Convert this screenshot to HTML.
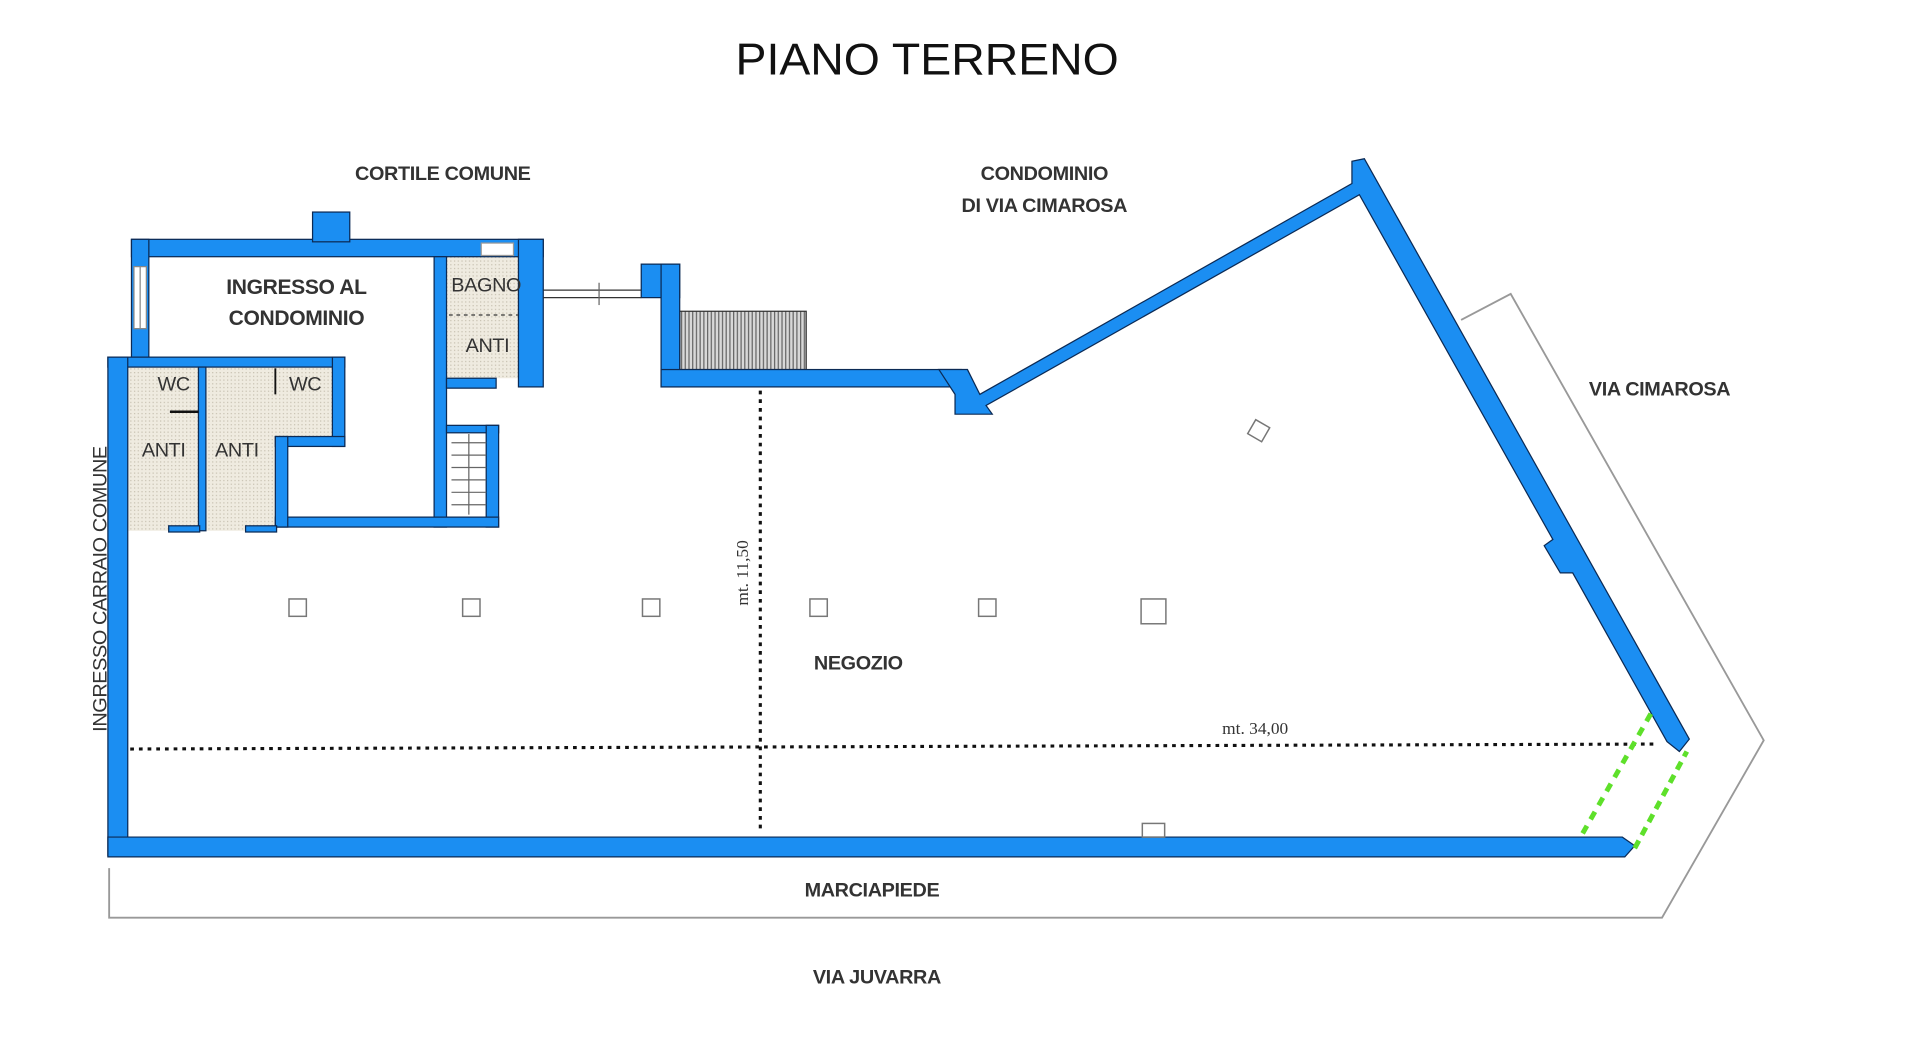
<!DOCTYPE html>
<html><head><meta charset="utf-8"><style>
html,body{margin:0;padding:0;background:#fff;}
svg{display:block;}
text{font-family:"Liberation Sans",Arial,sans-serif;fill:#333;}
</style></head><body>
<svg width="1920" height="1064" viewBox="0 0 1548 858" preserveAspectRatio="none" xmlns="http://www.w3.org/2000/svg">
<defs>
<pattern id="dots" width="3" height="3" patternUnits="userSpaceOnUse"><rect width="3" height="3" fill="#efebe0"/><rect width="1" height="1" fill="#c8c2b2"/></pattern>
<pattern id="hatch" width="3" height="10" patternUnits="userSpaceOnUse"><rect width="3" height="10" fill="#d8d8d8"/><rect width="1" height="10" fill="#666"/></pattern>
</defs>
<text x="593" y="60" font-size="36" textLength="309" lengthAdjust="spacingAndGlyphs" style="fill:#111">PIANO TERRENO</text>

<path d="M88,700 L88,740 L1340,740 L1422,597 L1218,237 L1178,258" fill="none" stroke="#999" stroke-width="1.5"/>

<rect x="103" y="296" width="58" height="132" fill="url(#dots)"/>
<rect x="166" y="296" width="103" height="56" fill="url(#dots)"/>
<rect x="166" y="352" width="57" height="76" fill="url(#dots)"/>
<rect x="360" y="207" width="58" height="98" fill="url(#dots)"/>
<rect x="548" y="251" width="102" height="47" fill="url(#hatch)" stroke="#333" stroke-width="1"/>

<g fill="#1b8ef2" stroke="#0b2a55" stroke-width="1">
<rect x="106" y="193" width="332" height="14"/>
<rect x="252" y="171" width="30" height="24"/>
<rect x="106" y="193" width="14" height="95"/>
<rect x="418" y="193" width="20" height="119"/>
<rect x="350" y="207" width="10" height="218"/>
<rect x="360" y="305" width="40" height="8"/>
<rect x="360" y="343" width="42" height="6"/>
<rect x="392" y="343" width="10" height="82"/>
<rect x="222" y="417" width="180" height="8"/>
<rect x="87" y="288" width="191" height="8"/>
<rect x="268" y="288" width="10" height="72"/>
<rect x="222" y="352" width="56" height="8"/>
<rect x="222" y="352" width="10" height="73"/>
<rect x="160" y="296" width="6" height="132"/>
<rect x="136" y="424" width="25" height="5"/>
<rect x="198" y="424" width="25" height="5"/>
<rect x="87" y="288" width="16" height="402"/>
<path d="M87,675 L1308,675 L1318,682 L1310,691 L87,691 Z"/>
<rect x="517" y="213" width="31" height="27"/>
<rect x="533" y="213" width="15" height="99"/>
<rect x="533" y="298" width="242" height="14"/>
<path d="M757,298 L780,298 L790,318 L1090,148 L1090,130 L1100,128 L1362,596 L1354,606 L1344,598 L1268,462 L1258,462 L1245,440 L1252,435 L1096,157 L795,327 L800,334 L770,334 L770,318 Z"/>
</g>
<rect x="108" y="215" width="10" height="50" fill="#fff" stroke="#888"/>
<line x1="113" y1="215" x2="113" y2="265" stroke="#888"/>
<rect x="388" y="196" width="26" height="10" fill="#fff" stroke="#999"/>
<line x1="438" y1="234" x2="517" y2="234" stroke="#333"/>
<line x1="438" y1="240" x2="517" y2="240" stroke="#333"/>
<line x1="483" y1="228" x2="483" y2="246" stroke="#666"/>
<g stroke="#666" stroke-width="1">
<line x1="364" y1="357" x2="392" y2="357"/><line x1="364" y1="367" x2="392" y2="367"/><line x1="364" y1="377" x2="392" y2="377"/><line x1="364" y1="387" x2="392" y2="387"/><line x1="364" y1="397" x2="392" y2="397"/><line x1="364" y1="407" x2="392" y2="407"/><line x1="378" y1="350" x2="378" y2="415"/>
</g>
<line x1="137" y1="332" x2="160" y2="332" stroke="#111" stroke-width="2"/>
<line x1="222" y1="297" x2="222" y2="318" stroke="#111" stroke-width="1.5"/>
<line x1="362" y1="254" x2="418" y2="254" stroke="#333" stroke-dasharray="3,3"/>

<line x1="613" y1="315" x2="613" y2="668" stroke="#111" stroke-width="2.5" stroke-dasharray="3,4"/>
<line x1="105" y1="604" x2="1335" y2="600" stroke="#111" stroke-width="2.5" stroke-dasharray="3,4"/>
<text x="603" y="462" font-size="14" transform="rotate(-90 603 462)" text-anchor="middle" style="font-family:'Liberation Serif',serif">mt. 11,50</text>
<text x="1012" y="592" font-size="14" text-anchor="middle" style="font-family:'Liberation Serif',serif">mt. 34,00</text>

<line x1="1276" y1="672" x2="1333" y2="572" stroke="#5ee02a" stroke-width="4" stroke-dasharray="7,6"/>
<line x1="1318" y1="684" x2="1360" y2="606" stroke="#5ee02a" stroke-width="4" stroke-dasharray="7,5"/>

<g fill="#fff" stroke="#777" stroke-width="1.2">
<rect x="233" y="483" width="14" height="14"/><rect x="373" y="483" width="14" height="14"/><rect x="518" y="483" width="14" height="14"/><rect x="653" y="483" width="14" height="14"/><rect x="789" y="483" width="14" height="14"/><rect x="920" y="483" width="20" height="20"/>
<rect x="1008" y="341" width="13" height="13" transform="rotate(30 1015 348)"/>
<rect x="921" y="664" width="18" height="11"/>
</g>

<g font-size="16" text-anchor="middle" font-weight="bold" style="letter-spacing:-0.3px">
<text x="357" y="145">CORTILE COMUNE</text>
<text x="842" y="145">CONDOMINIO</text>
<text x="842" y="171">DI VIA CIMAROSA</text>
<text x="1338" y="319">VIA CIMAROSA</text>
<text x="692" y="540">NEGOZIO</text>
<text x="703" y="723">MARCIAPIEDE</text>
<text x="707" y="793">VIA JUVARRA</text>
<text x="239" y="237" font-size="17">INGRESSO AL</text>
<text x="239" y="262" font-size="17">CONDOMINIO</text>
<text x="392" y="235" font-weight="normal">BAGNO</text>
<text x="393" y="284" font-weight="normal">ANTI</text>
<text x="140" y="315" font-weight="normal">WC</text>
<text x="246" y="315" font-weight="normal">WC</text>
<text x="132" y="368" font-weight="normal">ANTI</text>
<text x="191" y="368" font-weight="normal">ANTI</text>
<text x="86" y="475" transform="rotate(-90 86 475)" font-weight="normal">INGRESSO CARRAIO COMUNE</text>
</g>
</svg>
</body></html>
